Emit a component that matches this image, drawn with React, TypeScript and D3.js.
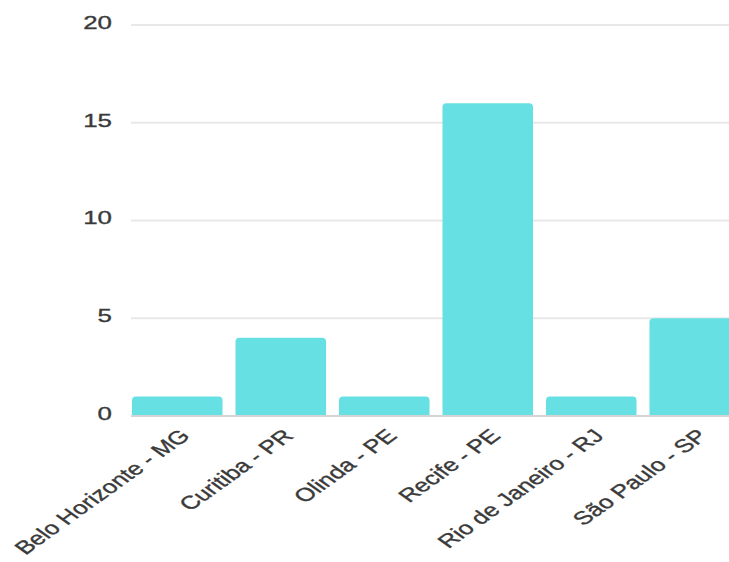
import React from "react";
import * as d3 from "d3";

const categories = [
  "Belo Horizonte - MG",
  "Curitiba - PR",
  "Olinda - PE",
  "Recife - PE",
  "Rio de Janeiro - RJ",
  "São Paulo - SP",
];
const values = [1, 4, 1, 16, 1, 5];
const yTicks = [0, 5, 10, 15, 20];

const W = 729;
const H = 562;
const STRETCH = 1.4;
const BAR = "#67e0e4";
const FONT = "Liberation Sans, Arial, sans-serif";

function topRoundedRect(x: number, y: number, w: number, h: number, r: number) {
  const rr = Math.min(r, h / 2, w / 2);
  const p = d3.path();
  p.moveTo(x, y + h);
  p.lineTo(x, y + rr);
  p.quadraticCurveTo(x, y, x + rr, y);
  p.lineTo(x + w - rr, y);
  p.quadraticCurveTo(x + w, y, x + w, y + rr);
  p.lineTo(x + w, y + h);
  p.closePath();
  return p.toString();
}

export default function App() {
  const x = d3
    .scaleBand<string>()
    .domain(categories)
    .range([125.5, 746.5])
    .paddingInner(0.125)
    .paddingOuter(0.0625);
  const y = d3.scaleLinear().domain([0, 20]).range([416, 25]);

  return (
    <svg
      width={W}
      height={H}
      style={{ position: "absolute", left: 0, top: 0, background: "#fff" }}
      fontFamily={FONT}
    >
      {yTicks.map((t) => (
        <g key={t}>
          {t !== 0 && (
            <line x1={131} x2={W} y1={y(t)} y2={y(t)} stroke="#e8e8e8" strokeWidth={2} />
          )}
          <text
            transform={`translate(112,${y(t) - 1}) scale(${STRETCH},1)`}
            textAnchor="end"
            dominantBaseline="middle"
            fontSize={18.5}
            fill="#3a3a3a"
            stroke="#3a3a3a"
            strokeWidth={0.35}
          >
            {t}
          </text>
        </g>
      ))}
      <line x1={131} x2={W} y1={y(0)} y2={y(0)} stroke="#d4d4d4" strokeWidth={2} />
      {categories.map((c, i) => (
        <path
          key={c}
          d={topRoundedRect(x(c)!, y(values[i]), x.bandwidth(), y(0) - 1 - y(values[i]), 4)}
          fill={BAR}
        />
      ))}
      {categories.map((c) => {
        const cx = x(c)! + x.bandwidth() / 2;
        return (
          <text
            key={c}
            transform={`translate(${cx + 14},437) scale(${STRETCH},1) rotate(-45)`}
            textAnchor="end"
            fontSize={18.5}
            fill="#3a3a3a"
            stroke="#3a3a3a"
            strokeWidth={0.35}
          >
            {c}
          </text>
        );
      })}
    </svg>
  );
}
